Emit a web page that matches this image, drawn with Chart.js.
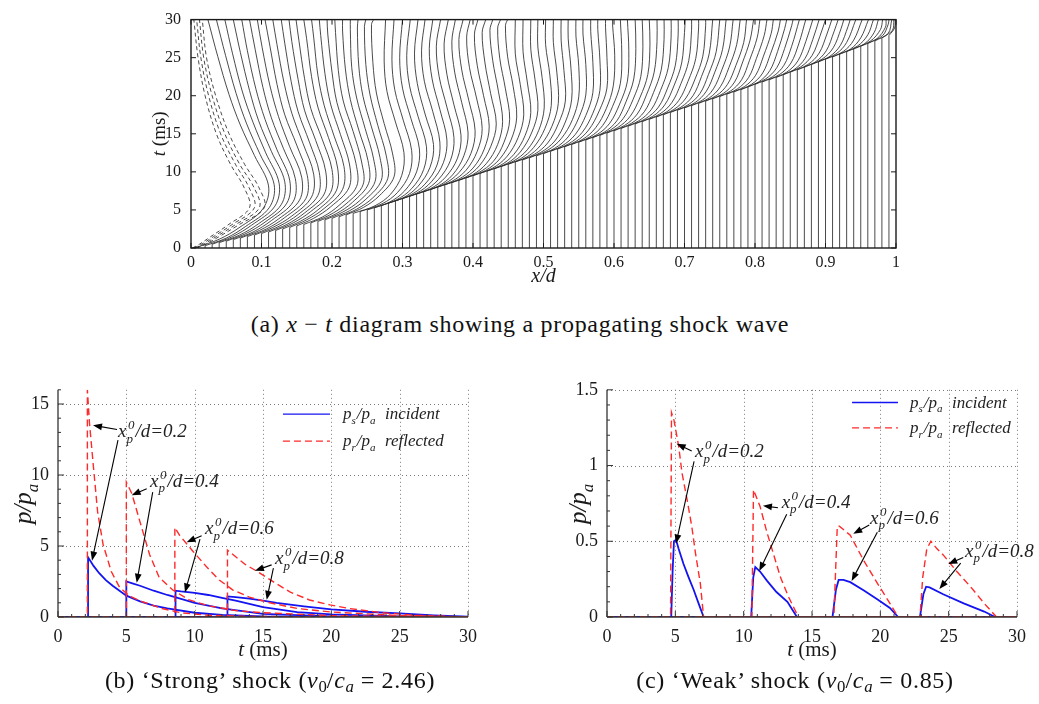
<!DOCTYPE html>
<html>
<head>
<meta charset="utf-8">
<script src="https://cdn.jsdelivr.net/npm/chart.js@4.4.1/dist/chart.umd.min.js"></script>
<style>
  body { margin: 0; background: #fff; width: 1039px; height: 704px; position: relative; overflow: hidden; font-family: "Liberation Serif", serif; }
  canvas { position: absolute; }
  .cap { position: absolute; font-size: 24px; letter-spacing: 0.7px; line-height: 1; color: #111; white-space: nowrap; transform: translateX(-50%); }
  .cap sub { font-size: 0.7em; vertical-align: -0.25em; line-height: 0; letter-spacing: 0; }
</style>
</head>
<body>
<canvas id="xt" width="820" height="290" style="left:100px;top:0"></canvas>
<canvas id="strong" width="520" height="300" style="left:0;top:370px"></canvas>
<canvas id="weak" width="519" height="300" style="left:520px;top:370px"></canvas>
<div class="cap" style="left:520px;top:312px">(a) <i>x</i> − <i>t</i> diagram showing a propagating shock wave</div>
<div class="cap" style="left:270px;top:668px">(b) ‘Strong’ shock (<i>v</i><sub>0</sub>/<i>c<sub>a</sub></i> = 2.46)</div>
<div class="cap" style="left:795px;top:668px">(c) ‘Weak’ shock (<i>v</i><sub>0</sub>/<i>c<sub>a</sub></i> = 0.85)</div>
<script>
// ---- x-t diagram: particle paths ----
// start position x0/d of each particle
const startX = [
  0.01, 0.02, 0.03, 0.04, 0.05, 0.06, 0.07, 0.08, 0.09, 0.10,
  0.11, 0.12, 0.13, 0.14, 0.15, 0.16, 0.17, 0.18, 0.19, 0.20,
  0.21, 0.22, 0.23, 0.24, 0.25, 0.26, 0.27, 0.28, 0.29, 0.30,
  0.31, 0.32, 0.33, 0.34, 0.35, 0.36, 0.37, 0.38, 0.39, 0.40,
  0.41, 0.42, 0.43, 0.44, 0.45, 0.46, 0.47, 0.48, 0.49, 0.50,
  0.51, 0.52, 0.53, 0.54, 0.55, 0.56, 0.57, 0.58, 0.59, 0.60,
  0.61, 0.62, 0.63, 0.64, 0.65, 0.66, 0.67, 0.68, 0.69, 0.70,
  0.71, 0.72, 0.73, 0.74, 0.75, 0.76, 0.77, 0.78, 0.79, 0.80,
  0.81, 0.82, 0.83, 0.84, 0.85, 0.86, 0.87, 0.88, 0.89, 0.90,
  0.91, 0.92, 0.93, 0.94, 0.95, 0.96, 0.97, 0.98, 0.99
];
// time (ms) at which the shock reaches each particle
const shockT = [
  0.15, 0.3, 0.5, 0.7, 0.9, 1.1, 1.3, 1.5, 1.7, 1.9,
  2.1, 2.3, 2.5, 2.7, 2.9, 3.1, 3.3, 3.5, 3.7, 3.9,
  4.1, 4.35, 4.55, 4.8, 5.0, 5.3, 5.6, 5.9, 6.2, 6.5,
  6.8, 7.1, 7.4, 7.7, 8.0, 8.3, 8.6, 8.9, 9.2, 9.5,
  9.8, 10.1, 10.4, 10.7, 11.0, 11.3, 11.55, 11.85, 12.1, 12.4,
  12.7, 13.0, 13.3, 13.6, 13.9, 14.2, 14.5, 14.8, 15.1, 15.4,
  15.7, 16.0, 16.3, 16.6, 16.9, 17.2, 17.5, 17.8, 18.1, 18.4,
  18.7, 19.0, 19.3, 19.6, 19.9, 20.2, 20.5, 20.8, 21.2, 21.5,
  21.8, 22.1, 22.4, 22.8, 23.1, 23.4, 23.8, 24.1, 24.5, 24.8,
  25.1, 25.5, 25.8, 26.2, 26.5, 26.9, 27.2, 27.6, 27.9
];
// delays (ms) after the shock at which the drift is listed
const tauGrid = [1, 2.5, 5, 8, 12, 16, 20, 25];
// drift x - x0 in 1/1000 d at each delay; last entry is the drift at t = 30 ms
const drift = [
  [30,58,92,100,80,60,44,28,14], [30,57,91,98,78,59,44,29,16], [29,56,89,95,76,58,43,29,18],
  [29,56,88,93,74,56,43,30,20], [28,55,86,90,72,55,42,30,22], [28,54,85,88,71,54,42,31,23],
  [27,54,84,87,70,54,42,31,24], [27,53,83,85,70,53,42,32,25], [26,53,81,84,69,53,42,32,26],
  [26,52,80,82,68,52,42,33,28], [26,51,79,81,67,51,42,33,29], [25,50,78,80,66,50,41,33,29],
  [25,50,76,78,65,50,41,34,30], [24,49,75,77,63,49,40,34,31], [24,48,74,75,62,48,40,34,32],
  [27,50,75,74,61,47,40,34,33], [26,50,74,72,60,46,39,35,34], [26,49,72,71,58,46,39,35,35],
  [25,49,71,69,57,45,38,36,36], [25,48,70,68,56,44,38,36,37], [25,48,69,67,55,44,38,36,38],
  [25,47,68,66,54,43,38,36,39],
  [31,53,69,72,60,48,44,46], [31,53,70,73,61,49,45,48], [31,53,70,74,62,50,46,50],
  [31,53,70,74,62,50,46,51], [31,52,69,74,62,51,47,52], [30,52,69,73,63,51,47,52],
  [30,51,68,73,63,52,48,53], [30,51,68,73,63,52,48,54], [30,51,68,73,63,53,49,55],
  [30,51,67,73,64,54,50,55], [29,50,67,73,64,54,50,56], [29,50,66,73,65,55,51,56],
  [29,50,66,73,65,56,52,57], [29,49,65,73,65,57,53,58], [29,49,65,72,66,58,54,58],
  [28,49,64,72,66,58,55,59], [28,48,64,72,67,59,56,59],
  [28,48,64,72,67,60,60], [28,48,64,72,67,61,61], [28,47,63,72,68,62,62],
  [27,47,63,71,68,62,62], [27,46,62,71,69,63,63], [27,46,62,71,69,64,64],
  [27,46,61,71,69,65,65], [26,46,61,70,69,65,65], [26,45,61,70,70,66,66],
  [26,45,60,70,70,66,66], [26,45,60,70,70,67,67], [26,45,60,70,70,67,67],
  [26,44,59,70,70,68,68], [26,44,59,69,71,68,68],
  [26,44,58,69,71,69], [26,44,58,69,71,69], [26,44,57,68,71,70], [25,43,57,68,71,70],
  [25,43,57,68,71,70], [25,43,56,67,71,71], [25,43,56,67,71,71], [25,43,56,67,71,71],
  [25,43,56,67,71,71], [25,42,55,66,70,71], [25,42,55,66,70,70], [25,42,55,66,70,70],
  [25,42,55,66,70,70],
  [25,42,54,65,70], [25,42,54,65,70], [25,41,53,64,69], [25,41,53,64,69], [25,41,53,64,69],
  [25,41,53,64,68], [25,41,52,63,68], [25,41,52,63,67], [25,41,52,63,67], [25,41,52,63,66],
  [25,41,52,63,66], [25,41,52,62,65], [25,41,52,62,64],
  [25,41,52,63], [25,41,52,62], [25,41,52,62], [25,41,52,61], [25,41,52,60],
  [25,41,52,59], [25,41,52,58], [25,41,52,56], [25,41,52,55],
  [25,40,53], [25,40,52], [25,40,51], [25,40,48], [25,39,45], [24,38,41], [23,35,36], [21,29,30],
  [19,24], [15,17], [8,9]
];
// innermost (dashed) paths: x/d at the listed times
const innerT = [0, 0.5, 1.5, 3, 5.3, 8, 11, 15, 20, 25, 30];
const innerX = [
  [0.002, 0.012, 0.028, 0.052, 0.083, 0.075, 0.056, 0.036, 0.020, 0.010, 0.004],
  [0.004, 0.015, 0.032, 0.057, 0.090, 0.082, 0.063, 0.042, 0.025, 0.014, 0.008],
  [0.006, 0.018, 0.036, 0.062, 0.097, 0.089, 0.069, 0.048, 0.030, 0.018, 0.012],
  [0.008, 0.021, 0.040, 0.067, 0.104, 0.096, 0.076, 0.054, 0.035, 0.022, 0.016]
];

// ---- pressure histories, gauges at x_p^0/d = 0.2, 0.4, 0.6, 0.8 ----
const gauges = ['0.2', '0.4', '0.6', '0.8'];
const strongIncT = [
  [0, 2.2, 2.2, 2.6, 3.0, 3.5, 4.0, 5.0, 6.0, 7.0, 8.0, 10, 12, 15, 20, 30],
  [0, 5.0, 5.0, 5.5, 6.0, 7.0, 8.0, 10, 12, 15, 20, 25, 30],
  [0, 8.6, 8.6, 9.0, 10, 11, 12, 13, 15, 17.5, 20, 25, 30],
  [0, 12.4, 12.4, 13, 14, 15, 16, 18, 20, 22.5, 25, 27.5, 30]
];
const strongIncP = [
  [0, 0, 4.2, 3.6, 3.1, 2.6, 2.2, 1.5, 1.1, 0.8, 0.6, 0.3, 0.15, 0.04, 0.01, 0],
  [0, 0, 2.5, 2.35, 2.2, 1.85, 1.55, 1.0, 0.6, 0.22, 0.05, 0.01, 0],
  [0, 0, 1.85, 1.8, 1.7, 1.55, 1.35, 1.15, 0.7, 0.35, 0.18, 0.05, 0],
  [0, 0, 1.45, 1.4, 1.3, 1.16, 1.0, 0.75, 0.53, 0.37, 0.25, 0.12, 0.02]
];
const strongRefT = [
  [0, 2.15, 2.15, 2.3, 2.6, 2.9, 3.3, 3.9, 4.5, 5.2, 6.1, 7.6, 9.0, 11, 14, 20, 30],
  [0, 5.0, 5.0, 5.4, 6.0, 6.7, 7.4, 8.4, 9.6, 11, 13, 15, 20, 25, 30],
  [0, 8.55, 8.55, 8.9, 9.9, 10.9, 11.8, 12.8, 14, 15.5, 17.5, 20, 25, 30],
  [0, 12.4, 12.4, 12.8, 13.7, 14.6, 15.8, 17.0, 18.4, 19.9, 21.3, 23.7, 26.2, 30]
];
const strongRefP = [
  [0, 0, 16, 13.7, 10.5, 7.4, 5.1, 3.2, 2.1, 1.5, 1.1, 0.6, 0.3, 0.12, 0.04, 0.01, 0],
  [0, 0, 9.5, 8.7, 6.7, 4.4, 2.8, 1.9, 1.2, 0.8, 0.45, 0.3, 0.1, 0.03, 0],
  [0, 0, 6.3, 5.75, 4.6, 3.5, 2.6, 1.9, 1.4, 1.0, 0.6, 0.35, 0.1, 0],
  [0, 0, 4.7, 4.4, 3.7, 3.2, 2.45, 1.75, 1.2, 0.85, 0.6, 0.3, 0.12, 0]
];
const weakIncT = [
  [0, 4.7, 4.8, 4.9, 5.05, 5.24, 5.6, 5.98, 6.34, 6.7, 7.07, 30],
  [0, 10.55, 10.7, 10.85, 11.2, 11.7, 12.4, 13.2, 13.9, 30],
  [0, 16.5, 16.75, 16.95, 17.3, 17.8, 18.8, 19.8, 20.7, 21.3, 30],
  [0, 22.9, 23.15, 23.35, 23.6, 24.6, 26.1, 27.6, 28.4, 30]
];
const weakIncP = [
  [0, 0, 0.3, 0.5, 0.51, 0.45, 0.35, 0.26, 0.18, 0.09, 0, 0],
  [0, 0, 0.26, 0.33, 0.3, 0.24, 0.165, 0.1, 0, 0],
  [0, 0, 0.18, 0.245, 0.245, 0.23, 0.175, 0.115, 0.06, 0, 0],
  [0, 0, 0.15, 0.2, 0.195, 0.15, 0.09, 0.036, 0, 0]
];
const weakRefT = [
  [0, 4.65, 4.72, 4.9, 5.24, 5.49, 5.85, 6.2, 6.46, 6.83, 7.07, 30],
  [0, 10.6, 10.72, 11.2, 11.7, 12.2, 12.7, 13.3, 14.0, 30],
  [0, 16.6, 16.85, 17.0, 17.8, 18.8, 19.8, 20.7, 21.3, 30],
  [0, 22.9, 23.1, 23.4, 23.7, 24.15, 24.6, 25.6, 26.6, 27.6, 28.5, 30]
];
const weakRefP = [
  [0, 0, 1.35, 1.3, 1.13, 0.95, 0.78, 0.6, 0.43, 0.22, 0, 0],
  [0, 0, 0.84, 0.73, 0.56, 0.41, 0.26, 0.13, 0, 0],
  [0, 0, 0.6, 0.6, 0.54, 0.37, 0.22, 0.09, 0, 0],
  [0, 0, 0.26, 0.45, 0.5, 0.45, 0.41, 0.3, 0.2, 0.09, 0, 0]
];

// ---------------------------------------------------------------------------
const serif = '"Liberation Serif", "Times New Roman", serif';
const ink = '#1a1a1a';
const pathInk = '#2b2b2b';
const blue = '#1414f0';
const red = '#ff2a2a';
const fmt = v => String(Math.round(v * 100) / 100);
const fontStr = (size, italic) => (italic ? 'italic ' : '') + size + 'px ' + serif;

// text with italic letters, optional upright runs and stacked sub/superscripts
function rich(ctx, tokens, x, y, size, draw = true) {
  let cx = x;
  for (const tk of tokens) {
    if (tk.t !== undefined) {
      ctx.font = fontStr(size, !tk.up);
      if (draw) ctx.fillText(tk.t, cx, y);
      cx += ctx.measureText(tk.t).width;
    } else {
      ctx.font = fontStr(Math.round(size * 0.66), true);
      let w = 0;
      if (tk.sub) {
        if (draw) ctx.fillText(tk.sub, cx, y + size * 0.28);
        w = Math.max(w, ctx.measureText(tk.sub).width);
      }
      if (tk.sup) {
        if (draw) ctx.fillText(tk.sup, cx + 1.5, y - size * 0.42);
        w = Math.max(w, ctx.measureText(tk.sup).width + 1.5);
      }
      cx += w + 1;
    }
  }
  return cx - x;
}

function richCentered(ctx, tokens, cx, y, size) {
  const w = rich(ctx, tokens, 0, 0, size, false);
  rich(ctx, tokens, cx - w / 2, y, size);
}

function richVertical(ctx, tokens, cx, cy, size) {
  ctx.save();
  ctx.translate(cx, cy);
  ctx.rotate(-Math.PI / 2);
  const w = rich(ctx, tokens, 0, 0, size, false);
  rich(ctx, tokens, -w / 2, size * 0.33, size);
  ctx.restore();
}

function segment(ctx, x1, y1, x2, y2) {
  ctx.beginPath();
  ctx.moveTo(x1, y1);
  ctx.lineTo(x2, y2);
  ctx.stroke();
}

function arrow(ctx, x1, y1, x2, y2) {
  const a = Math.atan2(y2 - y1, x2 - x1);
  const L = 9, W = 3.4;
  const c = Math.cos(a), s = Math.sin(a);
  segment(ctx, x1, y1, x2 - L * 0.7 * c, y2 - L * 0.7 * s);
  ctx.beginPath();
  ctx.moveTo(x2, y2);
  ctx.lineTo(x2 - L * c + W * s, y2 - L * s - W * c);
  ctx.lineTo(x2 - L * c - W * s, y2 - L * s + W * c);
  ctx.closePath();
  ctx.fill();
}

const tickFont = size => ({ family: serif, size: size });

// ---- (a) x-t diagram ----
const xtSets = [];
const restPts = [];
startX.forEach((x0, i) => {
  restPts.push({ x: x0, y: 0 }, { x: x0, y: shockT[i] }, { x: null, y: null });
});
xtSets.push({ data: restPts, borderColor: pathInk, borderWidth: 0.85, tension: 0 });
startX.forEach((x0, i) => {
  const row = drift[i];
  const pts = [{ x: x0, y: shockT[i] }];
  for (let j = 0; j < row.length - 1; j++) {
    pts.push({ x: x0 + row[j] / 1000, y: shockT[i] + tauGrid[j] });
  }
  pts.push({ x: x0 + row[row.length - 1] / 1000, y: 30 });
  xtSets.push({ data: pts, borderColor: pathInk, borderWidth: 0.85, tension: 0.35 });
});
innerX.forEach(row => {
  xtSets.push({
    data: row.map((x, j) => ({ x: x, y: innerT[j] })),
    borderColor: pathInk, borderWidth: 0.85, borderDash: [4, 3], tension: 0.35
  });
});

const xtFrame = {
  id: 'xtFrame',
  afterDatasetsDraw(chart) {
    const { ctx, chartArea: a, scales: { x, y } } = chart;
    ctx.save();
    ctx.strokeStyle = ink;
    ctx.lineWidth = 1.4;
    ctx.strokeRect(a.left, a.top, a.right - a.left, a.bottom - a.top);
    ctx.lineWidth = 1;
    x.ticks.forEach(t => {
      const px = x.getPixelForValue(t.value);
      segment(ctx, px, a.bottom, px, a.bottom - 5);
      segment(ctx, px, a.top, px, a.top + 5);
    });
    y.ticks.forEach(t => {
      const py = y.getPixelForValue(t.value);
      segment(ctx, a.left, py, a.left + 5, py);
      segment(ctx, a.right, py, a.right - 5, py);
    });
    ctx.fillStyle = ink;
    ctx.textBaseline = 'alphabetic';
    richCentered(ctx, [{ t: 'x/d' }], (a.left + a.right) / 2, a.bottom + 34, 20);
    richVertical(ctx, [{ t: 't' }, { t: ' (ms)', up: true }], a.left - 32, (a.top + a.bottom) / 2, 19);
    ctx.restore();
  }
};

new Chart(document.getElementById('xt'), {
  type: 'line',
  data: { datasets: xtSets },
  options: {
    responsive: false,
    animation: false,
    events: [],
    layout: { padding: { left: 0, right: 24, top: 13, bottom: 0 } },
    plugins: { legend: { display: false }, tooltip: { enabled: false } },
    elements: { point: { radius: 0, hitRadius: 0 } },
    scales: {
      x: {
        type: 'linear', min: 0, max: 1,
        afterFit: s => { s.height = 42; },
        ticks: { stepSize: 0.1, padding: 5, color: ink, font: tickFont(16), callback: fmt, maxRotation: 0, autoSkip: false },
        grid: { display: false, drawTicks: false },
        border: { display: false }
      },
      y: {
        type: 'linear', min: 0, max: 30,
        afterFit: s => { s.width = 91; },
        ticks: { stepSize: 5, padding: 10, color: ink, font: tickFont(16), callback: fmt },
        grid: { display: false, drawTicks: false },
        border: { display: false }
      }
    }
  },
  plugins: [xtFrame]
});

// ---- (b), (c) pressure histories ----
function historySets(incT, incP, refT, refP) {
  const sets = [];
  refT.forEach((ts, i) => {
    sets.push({
      label: 'reflected ' + gauges[i],
      data: ts.map((t, j) => ({ x: t, y: refP[i][j] })),
      borderColor: red, borderWidth: 1.4, borderDash: [7, 4], tension: 0
    });
  });
  incT.forEach((ts, i) => {
    sets.push({
      label: 'incident ' + gauges[i],
      data: ts.map((t, j) => ({ x: t, y: incP[i][j] })),
      borderColor: blue, borderWidth: 1.8, tension: 0
    });
  });
  return sets;
}

const gaugeLabel = g => [{ t: 'x' }, { sub: 'p', sup: '0' }, { t: '/d=' + g }];

function historyDecor(cfg) {
  return {
    id: 'historyDecor',
    beforeDatasetsDraw(chart) {
      const { ctx, chartArea: a, scales: { x, y } } = chart;
      ctx.save();
      ctx.strokeStyle = '#7a7a7a';
      ctx.lineWidth = 1;
      ctx.setLineDash([1, 3]);
      x.ticks.forEach(t => {
        if (t.value <= x.min) return;
        const px = Math.round(x.getPixelForValue(t.value)) + 0.5;
        segment(ctx, px, a.top, px, a.bottom);
      });
      y.ticks.forEach(t => {
        if (t.value <= y.min) return;
        const py = Math.round(y.getPixelForValue(t.value)) + 0.5;
        segment(ctx, a.left, py, a.right, py);
      });
      ctx.restore();
    },
    afterDatasetsDraw(chart) {
      const { ctx, chartArea: a, scales: { x, y } } = chart;
      ctx.save();
      ctx.strokeStyle = '#333';
      ctx.lineWidth = 1.3;
      segment(ctx, a.left, a.top, a.left, a.bottom);
      segment(ctx, a.left, a.bottom, a.right, a.bottom);
      ctx.lineWidth = 1;
      for (let v = x.min; v <= x.max + 1e-9; v += cfg.xMinor) {
        const px = x.getPixelForValue(v);
        const major = Math.abs(v / cfg.xMajor - Math.round(v / cfg.xMajor)) < 1e-6;
        segment(ctx, px, a.bottom, px, a.bottom - (major ? 6 : 3));
      }
      for (let v = y.min; v <= y.max + 1e-9; v += cfg.yMinor) {
        const py = y.getPixelForValue(v);
        const major = Math.abs(v / cfg.yMajor - Math.round(v / cfg.yMajor)) < 1e-6;
        segment(ctx, a.left, py, a.left + (major ? 6 : 3), py);
      }

      ctx.fillStyle = ink;
      ctx.textBaseline = 'alphabetic';
      richCentered(ctx, [{ t: 't' }, { t: ' (ms)', up: true }], (a.left + a.right) / 2, a.bottom + 39, 21);
      richVertical(ctx, [{ t: 'p/p' }, { sub: 'a' }], a.left - cfg.yTitleGap, (a.top + a.bottom) / 2, 25);

      // gauge labels with arrows to the reflected and incident peaks
      ctx.strokeStyle = '#000';
      ctx.fillStyle = '#000';
      ctx.lineWidth = 1.1;
      cfg.notes.forEach((n, i) => {
        const P = p => [x.getPixelForValue(p[0]), y.getPixelForValue(p[1])];
        const r0 = P(n.red[0]), r1 = P(n.red[1]);
        const b0 = P(n.blue[0]), b1 = P(n.blue[1]);
        arrow(ctx, r0[0], r0[1], r1[0], r1[1]);
        arrow(ctx, b0[0], b0[1], b1[0], b1[1]);
        const at = P(n.at);
        ctx.fillStyle = '#222';
        rich(ctx, gaugeLabel(gauges[i]), at[0], at[1], 19);
        ctx.fillStyle = '#000';
      });

      // legend
      const L = cfg.legend;
      const lx1 = x.getPixelForValue(L.x1), lx2 = x.getPixelForValue(L.x2), tx = x.getPixelForValue(L.text);
      const yi = y.getPixelForValue(L.yInc), yr = y.getPixelForValue(L.yRef);
      ctx.lineWidth = 1.3;
      ctx.strokeStyle = blue;
      segment(ctx, lx1, yi, lx2, yi);
      ctx.strokeStyle = red;
      ctx.setLineDash([7, 4]);
      segment(ctx, lx1, yr, lx2, yr);
      ctx.setLineDash([]);
      ctx.fillStyle = '#222';
      rich(ctx, [{ t: 'p' }, { sub: 's' }, { t: '/p' }, { sub: 'a' }, { t: '  incident' }], tx, yi + 5, 17);
      rich(ctx, [{ t: 'p' }, { sub: 'r' }, { t: '/p' }, { sub: 'a' }, { t: '  reflected' }], tx, yr + 5, 17);
      ctx.restore();
    }
  };
}

function historyChart(id, sets, yMax, yStep, padRight, yWidth, decor) {
  return new Chart(document.getElementById(id), {
    type: 'line',
    data: { datasets: sets },
    options: {
      responsive: false,
      animation: false,
      events: [],
      layout: { padding: { left: 0, right: padRight, top: 13, bottom: 0 } },
      plugins: { legend: { display: false }, tooltip: { enabled: false } },
      elements: { point: { radius: 0, hitRadius: 0 } },
      scales: {
        x: {
          type: 'linear', min: 0, max: 30,
          afterFit: s => { s.height = 53; },
          ticks: { stepSize: 5, padding: 9, color: ink, font: tickFont(18), callback: fmt, maxRotation: 0, autoSkip: false },
          grid: { display: false, drawTicks: false },
          border: { display: false }
        },
        y: {
          type: 'linear', min: 0, max: yMax,
          afterFit: s => { s.width = yWidth; },
          ticks: { stepSize: yStep, includeBounds: false, padding: 9, color: ink, font: tickFont(18), callback: fmt },
          grid: { display: false, drawTicks: false },
          border: { display: false }
        }
      }
    },
    plugins: [historyDecor(decor)]
  });
}

historyChart('strong', historySets(strongIncT, strongIncP, strongRefT, strongRefP), 16, 5, 52, 58, {
  xMajor: 5, xMinor: 1, yMajor: 5, yMinor: 1, yTitleGap: 35,
  notes: [
    { at: [4.39, 12.65], red: [[4.32, 13.2], [2.56, 13.5]], blue: [[4.39, 12.45], [2.49, 3.97]] },
    { at: [6.73, 9.16], red: [[6.49, 9.03], [5.39, 8.57]], blue: [[6.93, 8.8], [5.76, 2.41]] },
    { at: [10.76, 5.83], red: [[10.51, 5.72], [9.41, 5.26]], blue: [[10.39, 5.49], [9.29, 1.73]] },
    { at: [15.88, 3.71], red: [[15.63, 3.67], [14.41, 3.26]], blue: [[15.76, 3.44], [15.27, 1.21]] }
  ],
  legend: { x1: 16.46, x2: 19.9, text: 20.85, yInc: 14.29, yRef: 12.38 }
});

historyChart('weak', historySets(weakIncT, weakIncP, weakRefT, weakRefP), 1.5, 0.5, 22, 87, {
  xMajor: 5, xMinor: 1, yMajor: 0.5, yMinor: 0.1, yTitleGap: 29,
  notes: [
    { at: [6.44, 1.054], red: [[6.2, 1.096], [5.1, 1.144]], blue: [[6.37, 1.028], [5.05, 0.485]] },
    { at: [12.78, 0.721], red: [[12.51, 0.721], [11.41, 0.734]], blue: [[13.15, 0.678], [11.14, 0.303]] },
    { at: [19.24, 0.614], red: [[19.19, 0.607], [18.02, 0.549]], blue: [[19.78, 0.56], [17.9, 0.238]] },
    { at: [26.2, 0.399], red: [[26.07, 0.393], [24.97, 0.35]], blue: [[25.88, 0.356], [24.32, 0.185]] }
  ],
  legend: { x1: 17.93, x2: 21.29, text: 22.17, yInc: 1.416, yRef: 1.249 }
});
</script>
</body>
</html>
